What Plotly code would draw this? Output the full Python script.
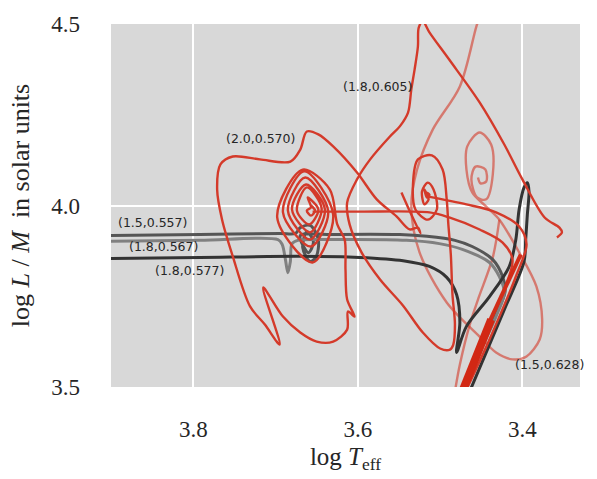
import plotly.graph_objects as go

# ---- evolutionary tracks in the (log Teff, log L/M) plane ----
# grey tracks
t_1557_logT = [3.907, 3.792, 3.695, 3.676, 3.670, 3.658, 3.648, 3.651, 3.658, 3.667, 3.662,
               3.654, 3.660, 3.670, 3.634, 3.549, 3.516, 3.482, 3.461, 3.436, 3.424, 3.421,
               3.434, 3.452, 3.473]
t_1557_logLM = [3.917, 3.920, 3.923, 3.923, 3.939, 3.945, 3.906, 3.857, 3.846, 3.884, 3.928,
                3.900, 3.870, 3.917, 3.920, 3.920, 3.915, 3.904, 3.887, 3.851, 3.804, 3.763,
                3.691, 3.603, 3.488]

t_1567_logT = [3.907, 3.792, 3.697, 3.692, 3.688, 3.685, 3.682, 3.680, 3.673, 3.634, 3.541,
               3.501, 3.473, 3.440, 3.428, 3.422, 3.431, 3.450, 3.469]
t_1567_logLM = [3.901, 3.904, 3.906, 3.893, 3.851, 3.815, 3.846, 3.895, 3.904, 3.906, 3.904,
                3.895, 3.879, 3.843, 3.804, 3.760, 3.700, 3.603, 3.488]

t_1577_logT = [3.907, 3.792, 3.670, 3.598, 3.545, 3.513, 3.492, 3.480, 3.476, 3.480, 3.468,
               3.440, 3.416, 3.408, 3.404, 3.398, 3.394, 3.392, 3.394, 3.396, 3.398, 3.422, 3.464]
t_1577_logLM = [3.854, 3.857, 3.860, 3.857, 3.848, 3.832, 3.802, 3.755, 3.678, 3.595, 3.667,
                3.749, 3.832, 3.906, 3.989, 4.050, 4.063, 4.039, 3.975, 3.906, 3.846, 3.713, 3.488]

# red tracks
t_2570_logT = [3.657, 3.652, 3.657, 3.662, 3.657,
               3.661, 3.648, 3.659, 3.674, 3.662, 3.644, 3.658, 3.680,
               3.663, 3.640, 3.658, 3.685, 3.664, 3.636, 3.657, 3.691,
               3.665, 3.630, 3.655, 3.698, 3.667, 3.634, 3.625,
               3.616, 3.615, 3.613, 3.604, 3.612, 3.613, 3.630, 3.650, 3.670, 3.691,
               3.715, 3.695, 3.713, 3.731, 3.752, 3.765, 3.771, 3.767, 3.752, 3.719,
               3.682, 3.670, 3.662, 3.648, 3.630, 3.601, 3.577, 3.553, 3.537, 3.527, 3.524,
               3.535, 3.547]
t_2570_logLM = [4.000, 3.986, 3.972, 3.986, 3.995,
                4.022, 3.989, 3.948, 3.986, 4.050, 3.992, 3.926, 3.989,
                4.058, 3.989, 3.906, 3.986, 4.077, 3.983, 3.887, 3.981,
                4.094, 3.975, 3.843, 3.967, 4.099, 4.044, 3.948,
                3.906, 3.824, 3.741, 3.694, 3.708, 3.658, 3.625, 3.625, 3.650, 3.694,
                3.774, 3.617, 3.672, 3.722, 3.860, 3.961, 4.044, 4.113, 4.135, 4.127,
                4.121, 4.154, 4.204, 4.196, 4.163, 4.091, 4.017, 3.970, 3.934, 3.939, 3.923,
                3.975, 4.036]

t_2570_tail_logT = [3.655, 3.598, 3.513, 3.489, 3.452, 3.424, 3.412, 3.422, 3.446, 3.473]
t_2570_tail_logLM = [3.983, 3.983, 3.981, 3.967, 3.934, 3.898, 3.851, 3.769, 3.645, 3.488]

t_1605_logT = [3.358, 3.352, 3.355, 3.373, 3.400, 3.422, 3.452, 3.489, 3.513, 3.521, 3.526,
               3.527, 3.531, 3.535, 3.539, 3.549, 3.561, 3.585, 3.601, 3.613, 3.610, 3.596,
               3.573, 3.545, 3.521, 3.500, 3.488, 3.484, 3.482, 3.485, 3.487, 3.490, 3.492,
               3.497, 3.510, 3.527, 3.533, 3.530, 3.515, 3.504, 3.508, 3.515, 3.522, 3.519,
               3.514, 3.516, 3.519, 3.516, 3.513, 3.516]
t_1605_logLM = [3.912, 3.926, 3.939, 3.967, 4.072, 4.168, 4.284, 4.402, 4.477, 4.507, 4.490,
                4.438, 4.375, 4.320, 4.256, 4.218, 4.190, 4.127, 4.072, 4.008, 3.948, 3.873,
                3.796, 3.724, 3.650, 3.606, 3.603, 3.617, 3.672, 3.755, 3.865, 3.948, 4.017,
                4.099, 4.138, 4.127, 4.058, 3.989, 3.961, 3.989, 4.044, 4.063, 4.039, 4.003,
                4.017, 4.030, 4.044, 4.022, 4.030, 4.036]

t_1605_tail_logT = [3.516, 3.468, 3.432, 3.404, 3.395, 3.407, 3.440, 3.469]
t_1605_tail_logLM = [4.025, 4.003, 3.981, 3.942, 3.893, 3.810, 3.631, 3.488]

t_1628_logT = [3.452, 3.456, 3.476, 3.509, 3.528, 3.535, 3.525, 3.492, 3.452, 3.432, 3.412,
               3.395, 3.379, 3.376, 3.383, 3.404, 3.428, 3.444, 3.461, 3.468, 3.467, 3.452,
               3.438, 3.436, 3.444, 3.455, 3.462, 3.457, 3.445, 3.444, 3.451, 3.454]
t_1628_logLM = [4.518, 4.493, 4.328, 4.209, 4.099, 3.997, 3.871, 3.733, 3.639, 3.595, 3.576,
                3.584, 3.631, 3.686, 3.777, 3.871, 3.961, 3.997, 4.036, 4.099, 4.163, 4.201,
                4.168, 4.085, 4.017, 4.022, 4.072, 4.107, 4.099, 4.066, 4.061, 4.077]

t_1628_tail_logT = [3.428, 3.436, 3.454, 3.464, 3.476, 3.482]
t_1628_tail_logLM = [3.961, 3.857, 3.741, 3.672, 3.562, 3.488]

# common end of all tracks (the red-giant branch), upper and lower part
rgb_upper_logT = [3.402, 3.440]
rgb_upper_logLM = [3.865, 3.680]
rgb_lower_logT = [3.438, 3.473]
rgb_lower_logLM = [3.686, 3.488]

# track labels (M_initial, M_final)
label_text = ["(1.5,0.557)", "(1.8,0.567)", "(1.8,0.577)", "(2.0,0.570)", "(1.8,0.605)", "(1.5,0.628)"]
label_logT = [3.850, 3.836, 3.805, 3.718, 3.576, 3.367]
label_logLM = [3.953, 3.887, 3.821, 4.185, 4.328, 3.562]

x_ticks = [3.8, 3.6, 3.4]
y_ticks = [3.5, 4.0, 4.5]

RED = "rgb(212,58,42)"
RED_LIGHT = "rgba(212,58,42,0.6)"

fig = go.Figure()


def track(x, y, color, width, shape="spline"):
    fig.add_trace(go.Scatter(x=x, y=y, mode="lines",
                             line=dict(color=color, width=width, shape=shape, smoothing=0.9),
                             hoverinfo="skip", showlegend=False))


track(t_1628_logT, t_1628_logLM, RED_LIGHT, 2.4)
track(t_1628_tail_logT, t_1628_tail_logLM, RED_LIGHT, 2.4)
track(t_1557_logT, t_1557_logLM, "#555555", 3)
track(t_1567_logT, t_1567_logLM, "#808080", 3)
track(t_1577_logT, t_1577_logLM, "#333333", 3)
track(t_2570_logT, t_2570_logLM, RED, 2.4)
track(t_2570_tail_logT, t_2570_tail_logLM, RED, 2.4)
track(t_1605_logT, t_1605_logLM, RED, 2.4)
track(t_1605_tail_logT, t_1605_tail_logLM, RED, 2.4)
track(rgb_upper_logT, rgb_upper_logLM, "rgb(210,45,25)", 4, "linear")
track(rgb_lower_logT, rgb_lower_logLM, "rgb(210,40,20)", 8, "linear")

for txt, lx, ly in zip(label_text, label_logT, label_logLM):
    fig.add_annotation(x=lx, y=ly, text=txt, showarrow=False,
                       font=dict(family="DejaVu Sans", size=12.5, color="#262626"))

serif = "Liberation Serif, serif"
fig.update_layout(
    width=597, height=479,
    margin=dict(l=111, r=17, t=24, b=92),
    paper_bgcolor="white", plot_bgcolor="#d8d8d8",
    font=dict(family=serif, color="#262626"),
)
fig.update_xaxes(range=[3.9, 3.33], tickvals=x_ticks, ticktext=[f"{v:.1f}" for v in x_ticks],
                 showgrid=True, gridcolor="white", gridwidth=1.5, zeroline=False,
                 showline=False, ticks="", ticklabelstandoff=26,
                 tickfont=dict(family=serif, size=23, color="#262626"),
                 title=dict(text="log <i>T</i><sub>eff</sub>", font=dict(family=serif, size=25),
                            standoff=6))
fig.update_yaxes(range=[3.5, 4.5], tickvals=y_ticks, ticktext=[f"{v:.1f}" for v in y_ticks],
                 showgrid=True, gridcolor="white", gridwidth=1.5, zeroline=False,
                 showline=False, ticks="", ticklabelstandoff=30,
                 tickfont=dict(family=serif, size=23, color="#262626"),
                 title=dict(text="log <i>L</i> / <i>M</i>  in solar units",
                            font=dict(family=serif, size=26), standoff=14))

fig.write_html("out.html")
